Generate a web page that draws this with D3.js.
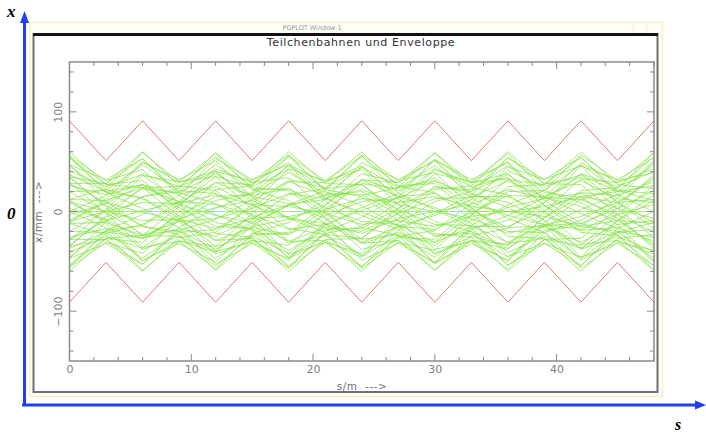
<!DOCTYPE html>
<html><head><meta charset="utf-8">
<script src="https://cdn.jsdelivr.net/npm/d3@7"></script>
<style>body{margin:0;background:#fff}svg{display:block}</style>
</head><body>
<svg id="c" width="706" height="436"></svg>
<script>
// ---- data (read / estimated from the picture) ----
const sKnots = [0,3,6,9,12,15,18,21,24,27,30,33,36,39,42,45,48];
const apertureUpper = [91,51,91,51,91,51,91,51,91,51,91,51,91,51,91,51,91];
const apertureLower = [-91,-51,-91,-51,-91,-51,-91,-51,-91,-51,-91,-51,-91,-51,-91,-51,-91];
const beamOuter = [
 [60,27,24,-5,-40,-31,-57,-20,-6,15,52,32,49,11,-12,-23,-59],
 [56,19,3,-16,-53,-32,-47,-10,16,24,59,29,33,0,-33,-29,-59],
 [47,10,-15,-23,-59,-29,-34,-1,32,29,59,24,17,-9,-46,-32,-54],
 [29,-2,-36,-30,-58,-22,-11,12,49,32,51,14,-7,-21,-57,-31,-39],
 [11,-12,-49,-32,-51,-14,7,21,57,31,39,4,-25,-27,-60,-27,-23],
 [-12,-23,-59,-30,-35,-2,30,29,60,25,19,-8,-45,-32,-55,-17,0],
 [-28,-28,-60,-26,-21,7,43,31,56,18,2,-16,-54,-32,-46,-9,17],
 [-47,-32,-53,-16,3,19,56,31,42,7,-22,-26,-60,-28,-27,3,38],
 [-56,-31,-42,-7,22,26,60,28,27,-3,-38,-30,-58,-21,-9,13,50],
 [-60,-27,-24,5,40,31,57,20,6,-15,-52,-32,-49,-11,12,23,59],
 [-56,-19,-3,16,53,32,47,10,-16,-24,-59,-29,-33,0,33,29,59],
 [-47,-10,15,23,59,29,34,1,-32,-29,-59,-24,-17,9,46,32,54],
 [-29,2,36,30,58,22,11,-12,-49,-32,-51,-14,7,21,57,31,39],
 [-11,12,49,32,51,14,-7,-21,-57,-31,-39,-4,25,27,60,27,23],
 [12,23,59,30,35,2,-30,-29,-60,-25,-19,8,45,32,55,17,0],
 [28,28,60,26,21,-7,-43,-31,-56,-18,-2,16,54,32,46,9,-17],
 [47,32,53,16,-3,-19,-56,-31,-42,-7,22,26,60,28,27,-3,-38],
 [56,31,42,7,-22,-26,-60,-28,-27,3,38,30,58,21,9,-13,-50]
];
const beamNear = [
 [54,22,13,-10,-43,-29,-49,-14,4,18,52,29,38,6,-21,-24,-55],
 [35,4,-24,-25,-55,-24,-21,6,38,29,52,18,4,-14,-49,-29,-43],
 [0,-16,-50,-29,-41,-8,17,23,55,26,28,-2,-32,-27,-54,-21,-11],
 [-35,-28,-53,-19,-8,12,47,29,46,12,-10,-20,-54,-28,-34,-3,26],
 [-54,-27,-31,-1,29,27,55,22,15,-9,-42,-29,-50,-15,2,17,51],
 [-54,-22,-13,10,43,29,49,14,-4,-18,-52,-29,-38,-6,21,24,55],
 [-35,-4,24,25,55,24,21,-6,-38,-29,-52,-18,-4,14,49,29,43],
 [0,16,50,29,41,8,-17,-23,-55,-26,-28,2,32,27,54,21,11],
 [35,28,53,19,8,-12,-47,-29,-46,-12,10,20,54,28,34,3,-26],
 [54,27,31,1,-29,-27,-55,-22,-15,9,42,29,50,15,-2,-17,-51]
];
const beamMiddle = [
 [46,19,14,-7,-35,-25,-42,-13,1,14,43,25,34,6,-15,-20,-47],
 [34,6,-15,-20,-47,-22,-23,2,28,23,46,17,9,-9,-38,-25,-40],
 [9,-9,-38,-25,-40,-11,6,16,45,24,31,3,-20,-21,-47,-21,-18],
 [-20,-21,-47,-21,-18,4,32,24,44,15,4,-12,-41,-25,-37,-9,11],
 [-41,-25,-37,-9,11,18,46,23,27,1,-24,-22,-46,-19,-14,7,35],
 [-46,-19,-14,7,35,25,42,13,-1,-14,-43,-25,-34,-6,15,20,47],
 [-34,-6,15,20,47,22,23,-2,-28,-23,-46,-17,-9,9,38,25,40],
 [-9,9,38,25,40,11,-6,-16,-45,-24,-31,-3,20,21,47,21,18],
 [20,21,47,21,18,-4,-32,-24,-44,-15,-4,12,41,25,37,9,-11],
 [41,25,37,9,-11,-18,-46,-23,-27,-1,24,22,46,19,14,-7,-35]
];
const beamHalf = [
 [20,-1,-23,-19,-38,-15,-8,7,32,21,34,9,-4,-13,-37,-20,-26],
 [-37,-20,-27,-4,15,17,39,18,17,-3,-25,-20,-37,-14,-5,9,33],
 [-20,1,23,19,38,15,8,-7,-32,-21,-34,-9,4,13,37,20,26],
 [37,20,27,4,-15,-17,-39,-18,-17,3,25,20,37,14,5,-9,-33]
];
const beamInner = [
 [28,9,-1,-9,-29,-16,-23,-4,10,13,31,15,15,-1,-19,-16,-30],
 [3,-8,-27,-17,-25,-6,7,12,31,15,18,1,-16,-15,-31,-13,-9],
 [-26,-17,-27,-7,4,11,30,16,20,2,-13,-14,-31,-14,-12,3,21],
 [-28,-9,1,9,29,16,23,4,-10,-13,-31,-15,-15,1,19,16,30],
 [-3,8,27,17,25,6,-7,-12,-31,-15,-18,-1,16,15,31,13,9],
 [26,17,27,7,-4,-11,-30,-16,-20,-2,13,14,31,14,12,-3,-21]
];
const beamCore = [
 [10,0,-9,-8,-17,-7,-5,2,13,9,15,5,0,-5,-15,-9,-12],
 [-10,0,9,8,17,7,5,-2,-13,-9,-15,-5,0,5,15,9,12],
 [-12,-11,-24,-10,-7,3,18,13,22,7,0,-7,-22,-13,-18,-3,7],
 [12,11,24,10,7,-3,-18,-13,-22,-7,0,7,22,13,18,3,-7]
];
const beamAxis = [
 [0,0,0,0,0,0,0,0,0,0,0,0,0,0,0,0,0]
];
const sTicks = [0,10,20,30,40];
const xTicks = [-100,0,100];
const sDomain = [0,48];
const xDomain = [-150,150];

// ---- drawing ----
const svg = d3.select("#c");
const blue = "#1f3ff2";

// PGPLOT window (pale yellow)
svg.append("rect").attr("x",29.5).attr("y",22.5).attr("width",633).attr("height",374)
  .attr("fill","#fffef6").attr("stroke","#fbefc4").attr("stroke-width",1.5);
svg.append("text").attr("x",312).attr("y",30).attr("text-anchor","middle")
  .attr("font-family","DejaVu Sans").attr("font-size",6.5).attr("fill","#999")
  .text("PGPLOT Window 1");
[633,647].forEach(xx=>svg.append("line").attr("x1",xx).attr("x2",xx).attr("y1",23).attr("y2",33)
  .attr("stroke","#f6ecc8").attr("stroke-width",1));

// black viewport frame
svg.append("rect").attr("x",33.5).attr("y",34.5).attr("width",624).attr("height",357.5)
  .attr("fill","#fff").attr("stroke","#707070").attr("stroke-width",2);
svg.append("line").attr("x1",33).attr("x2",658).attr("y1",34.5).attr("y2",34.5)
  .attr("stroke","#111").attr("stroke-width",3);

const x = d3.scaleLinear().domain(sDomain).range([69.5,654]);
const y = d3.scaleLinear().domain(xDomain).range([361,62]);

// title
svg.append("text").attr("x",361).attr("y",46).attr("text-anchor","middle")
  .attr("font-family","DejaVu Sans").attr("font-size",11).attr("fill","#333")
  .attr("letter-spacing",0.6).text("Teilchenbahnen und Enveloppe");

const g = svg.append("g");
const line = d3.line().x((d,i)=>x(sKnots[i])).y(d=>y(d));

// beam trajectories
const green = "#84e244";
[beamOuter,beamNear,beamMiddle,beamHalf,beamInner,beamCore,beamAxis].forEach(set=>{
  g.selectAll(null).data(set).enter().append("path")
   .attr("d",d=>line(d)).attr("fill","none").attr("stroke",green)
   .attr("stroke-width",0.8).attr("stroke-opacity",0.9);
});
// aperture / envelope
[apertureUpper,apertureLower].forEach(a=>{
  g.append("path").attr("d",line(a)).attr("fill","none")
   .attr("stroke","#e77a72").attr("stroke-width",1);
});

// axes box and ticks (PGPLOT style, inward ticks)
const axCol = "#8a8a8a";
const minorS = d3.range(0,49,2), minorX = d3.range(-140,141,20);
g.append("rect").attr("x",x(0)).attr("y",y(150)).attr("width",x(48)-x(0)).attr("height",y(-150)-y(150))
  .attr("fill","none").attr("stroke",axCol).attr("stroke-width",1.5);
minorS.forEach(v=>{
  const len = v%10===0?7:4;
  g.append("line").attr("x1",x(v)).attr("x2",x(v)).attr("y1",y(-150)).attr("y2",y(-150)-len).attr("stroke",axCol);
  g.append("line").attr("x1",x(v)).attr("x2",x(v)).attr("y1",y(150)).attr("y2",y(150)+len).attr("stroke",axCol);
});
minorX.forEach(v=>{
  const len = v%100===0?7:4;
  g.append("line").attr("y1",y(v)).attr("y2",y(v)).attr("x1",x(0)).attr("x2",x(0)+len).attr("stroke",axCol);
  g.append("line").attr("y1",y(v)).attr("y2",y(v)).attr("x1",x(48)).attr("x2",x(48)-len).attr("stroke",axCol);
});
// tick labels via d3 axes
const xa = g.append("g").attr("transform",`translate(0,${y(-150)})`)
  .call(d3.axisBottom(x).tickValues(sTicks).tickSize(0).tickPadding(4).tickFormat(d3.format("d")));
xa.select(".domain").remove();
xa.selectAll("text").attr("font-family","DejaVu Sans").attr("font-size",11).attr("fill","#808080");
const ya = g.append("g").attr("transform",`translate(${x(0)},0)`)
  .call(d3.axisLeft(y).tickValues(xTicks).tickSize(0).tickPadding(0).tickFormat(d=>d<0?"\u2212"+Math.abs(d):d));
ya.select(".domain").remove();
ya.selectAll("text").attr("font-family","DejaVu Sans").attr("font-size",11).attr("fill","#808080")
  .attr("text-anchor","middle").attr("dy",0).attr("x",0)
  .attr("transform","translate(-8,0) rotate(-90)");

// axis titles
svg.append("text").attr("x",362).attr("y",390).attr("text-anchor","middle")
  .attr("font-family","DejaVu Sans").attr("font-size",10.5).attr("fill","#707070")
  .attr("xml:space","preserve").attr("letter-spacing",0.5).text("s/m  --->");
svg.append("text").attr("transform","translate(42,212) rotate(-90)").attr("text-anchor","middle")
  .attr("font-family","DejaVu Sans").attr("font-size",10.5).attr("fill","#707070")
  .attr("xml:space","preserve").attr("letter-spacing",0.5).text("x/mm  --->");

// blue coordinate arrows
svg.append("line").attr("x1",24.5).attr("x2",24.5).attr("y1",406).attr("y2",22)
  .attr("stroke",blue).attr("stroke-width",3);
svg.append("path").attr("d","M24.5,11 L20,23 L29,23 Z").attr("fill",blue);
svg.append("line").attr("x1",22).attr("x2",697).attr("y1",405).attr("y2",405)
  .attr("stroke",blue).attr("stroke-width",3);
svg.append("path").attr("d","M706,405 L695,400.5 L695,409.5 Z").attr("fill",blue);

// labels
const lab = (t,xx,yy,fs)=>svg.append("text").attr("x",xx).attr("y",yy)
  .attr("font-family","Liberation Serif").attr("font-size",fs).attr("font-weight","bold")
  .attr("font-style","italic").attr("fill","#000").text(t);
lab("x",7,17,17); lab("0",7,219,17); lab("s",675,430,16);
</script></body></html>
